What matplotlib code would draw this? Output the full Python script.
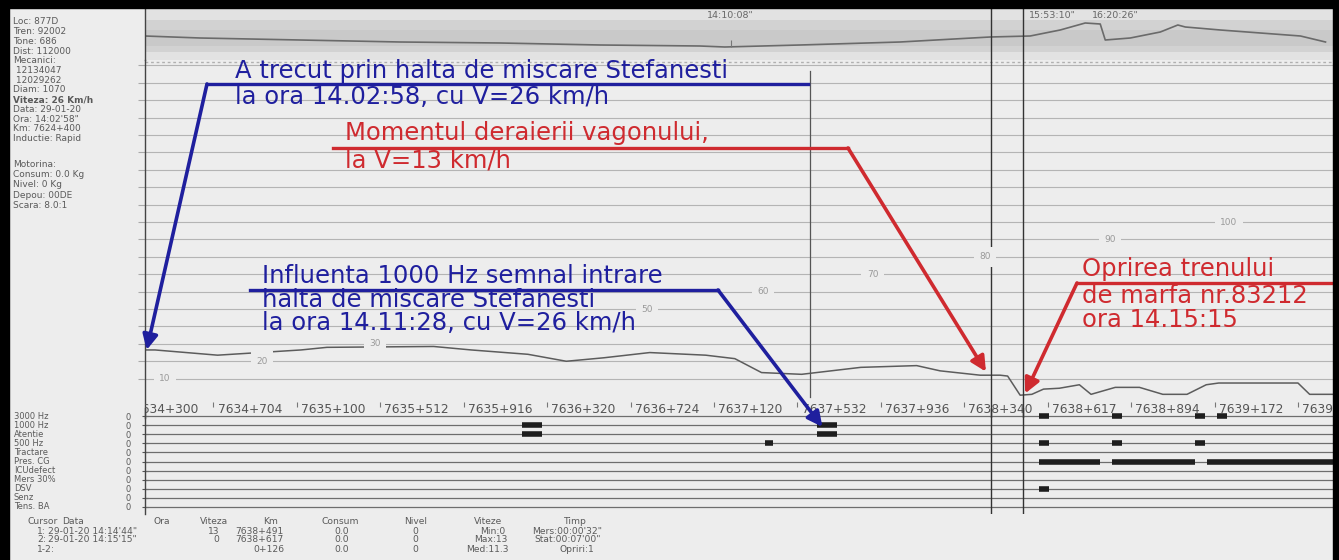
import matplotlib
matplotlib.use("Agg")
import matplotlib.pyplot as plt
from matplotlib.lines import Line2D
from matplotlib.patches import Rectangle
from matplotlib.transforms import blended_transform_factory

W, H = 1339, 560

# ---- data ----
# x axis = chart columns, one per km label
km_labels = ["7634+300", "7634+704", "7635+100", "7635+512", "7635+916",
             "7636+320", "7636+724", "7637+120", "7637+532", "7637+936",
             "7638+340", "7638+617", "7638+894", "7639+172", "7639+450"]

speed_pos = [0.18, 0.30, 1.05, 2.05, 2.36, 3.64, 4.09, 4.77, 5.23, 5.68,
             6.23, 6.90, 7.25, 7.57, 8.05, 8.76, 9.43, 9.71, 10.19, 10.43,
             10.52, 10.67, 10.81, 10.95, 11.14, 11.38, 11.52, 11.81, 12.10,
             12.38, 12.67, 12.90, 13.05, 14.00, 14.14, 14.45]
speed_kmh = [26.5, 26.5, 23.5, 26.5, 28, 28.5, 26.5, 24, 20, 22,
             25, 23.5, 21.5, 13.5, 12.5, 16.5, 17.5, 14.5, 12, 12,
             11.5, 0.5, 1, 4, 4.5, 6.5, 1, 5, 5,
             1, 1, 6.5, 7.5, 7.5, 1, 1]

scale_vals = [10, 20, 30, 50, 60, 70, 80, 90, 100]
scale_pos = [0.42, 1.58, 2.94, 6.20, 7.59, 8.90, 10.25, 11.75, 13.17]

profile_pos = [0.18, 0.84, 2.04, 3.24, 4.44, 5.64, 6.83, 7.13, 8.03, 9.23,
               10.31, 10.79, 11.15, 11.45, 11.63, 11.69, 11.99, 12.35, 12.56,
               12.65, 13.07, 13.55, 14.03, 14.33]
profile_val = [24, 22, 20, 18, 17, 15, 14, 13, 15, 18,
               23, 24, 30, 37, 36, 20, 22, 28, 35,
               33, 30, 27, 24, 18]
time_marks = ["14:10:08\"", "15:53:10\"", "16:20:26\""]
time_pos = [7.20, 11.06, 11.81]

cursor_pos = [10.32, 10.71]
marker_pos = 8.15

event_names = ["3000 Hz", "1000 Hz", "Atentie", "500 Hz", "Tractare", "Pres. CG",
               "ICUdefect", "Mers 30%", "DSV", "Senz", "Tens. BA"]
event_row = [1, 1, 2, 2, 3, 3, 3, 3, 0, 0, 0, 0, 5, 5, 5, 8]
event_start = [4.70, 8.24, 4.70, 8.24, 7.61, 10.89, 11.77, 12.77,
               10.89, 11.77, 12.77, 13.03, 10.89, 11.77, 12.91, 10.89]
event_end = [4.94, 8.48, 4.94, 8.48, 7.71, 11.01, 11.89, 12.89,
             11.01, 11.89, 12.89, 13.15, 11.63, 12.76, 14.50, 11.01]

info_lines = ["Loc: 877D", "Tren: 92002", "Tone: 686", "Dist: 112000", "Mecanici:",
              " 12134047", " 12029262", "Diam: 1070", "Viteza: 26 Km/h",
              "Data: 29-01-20", "Ora: 14:02'58\"", "Km: 7624+400", "Inductie: Rapid"]
fuel_lines = ["Motorina:", "Consum: 0.0 Kg", "Nivel: 0 Kg", "Depou: 00DE", "Scara: 8.0:1"]

BG = "#ededed"
BLUE = "#1f1f9e"
RED = "#cf2a2f"
GREY = "#5a5a5a"


def fx(px):
    return px / W


def fy(py):
    return 1 - py / H


fig = plt.figure(figsize=(W / 100, H / 100), dpi=100, facecolor=BG)

XL = (0.18, 14.42)
ax_top = fig.add_axes([fx(145), fy(60), (1333 - 145) / W, (60 - 9) / H])
ax_spd = fig.add_axes([fx(145), fy(418), (1333 - 145) / W, (418 - 60) / H])
ax_evt = fig.add_axes([fx(145), fy(514), (1333 - 145) / W, (514 - 408) / H])
for a in (ax_top, ax_spd, ax_evt):
    a.set_facecolor("none")
    a.set_xlim(*XL)
    for s in ("top", "right", "bottom"):
        a.spines[s].set_visible(False)
    a.spines["left"].set_color("#444444")
    a.spines["left"].set_linewidth(1.0)
    a.set_xticks([])

# ---- top strip (profile) ----
ax_top.set_ylim(0, 51)
ax_top.set_yticks([])
ax_top.axhspan(0, 51, color="#e2e2e2", lw=0)
ax_top.axhspan(8, 40, color="#d2d2d2", lw=0)
ax_top.axhspan(14, 30, color="#c9c9c9", lw=0)
ax_top.plot(profile_pos, profile_val, color="#6a6a6a", lw=1.2)
for t, p in zip(time_marks, time_pos):
    ax_top.text(p, 45, t, fontsize=6.8, color="#666666", ha="center", va="center")
ax_top.vlines(time_pos[0], 13, 20, color="#777777", lw=0.8)
for c in cursor_pos:
    ax_top.axvline(c, color="#333333", lw=1.0)

# ---- speed chart ----
ax_spd.set_ylim(-12.6, 193.1)
ax_spd.set_yticks(range(10, 200, 10))
ax_spd.set_yticklabels([])
ax_spd.tick_params(axis="y", length=5, direction="out", color="#aaaaaa")
ax_spd.grid(axis="y", color="#b4b4b4", lw=0.8)
ax_spd.axhline(192, color="#b0b0b0", lw=1.0, ls=(0, (2, 2)))
ax_spd.plot(speed_pos, speed_kmh, color="#5c5c5c", lw=1.1)
for v, p in zip(scale_vals, scale_pos):
    ax_spd.text(p, v, str(v), fontsize=6.5, color="#9a9a9a", ha="center", va="center",
                bbox=dict(boxstyle="square,pad=0.6", fc=BG, ec="none"))
for i, lab in enumerate(km_labels):
    ax_spd.vlines(i, -6, -3.5, color="#777777", lw=0.8)
    ax_spd.text(i + 0.05, -8, lab, fontsize=8.8, color="#555555",
                ha="left", va="center", clip_on=True)
ax_spd.axvline(marker_pos, ymin=0.06, ymax=0.97, color="#555555", lw=0.9)
for c in cursor_pos:
    ax_spd.axvline(c, color="#333333", lw=1.0)

# ---- event strip ----
ax_evt.set_ylim(10.77, -0.88)
ax_evt.set_yticks(range(len(event_names)))
ax_evt.set_yticklabels(["0"] * len(event_names), fontsize=6, color=GREY)
ax_evt.tick_params(axis="y", length=4, direction="inout", color="#555555", pad=8)
for r in range(len(event_names)):
    ax_evt.axhline(r, color="#6e6e6e", lw=0.9)
ax_evt.hlines(event_row, event_start, event_end, color="#1e1e1e", lw=4)
for c in cursor_pos:
    ax_evt.axvline(c, color="#333333", lw=1.0)
tr = blended_transform_factory(fig.transFigure, ax_evt.transData)
for r, name in enumerate(event_names):
    ax_evt.text(fx(14), r, name, transform=tr, fontsize=6, color=GREY, va="center")

# ---- left info panel ----
for i, s in enumerate(info_lines):
    fig.text(fx(13), fy(22 + 9.7 * i), s, fontsize=6.5, color=GREY, va="center",
             fontweight="bold" if s.startswith("Viteza") else "normal")
for i, s in enumerate(fuel_lines):
    fig.text(fx(13), fy(164 + 10.5 * i), s, fontsize=6.5, color=GREY, va="center")

# ---- cursor table ----
table = [
    (522, [("Cursor", 28), ("Data", 62), ("Ora", 153), ("Viteza", 200), ("Km", 263),
           ("Consum", 322), ("Nivel", 404), ("Viteze", 474), ("Timp", 564)]),
    (531, [("1:", 37), ("29-01-20 14:14'44\"", 48), ("13", 208), ("7638+491", 235),
           ("0.0", 334), ("0", 412), ("Min:0", 480), ("Mers:00:00'32\"", 532)]),
    (540, [("2:", 37), ("29-01-20 14:15'15\"", 48), ("0", 213), ("7638+617", 235),
           ("0.0", 334), ("0", 412), ("Max:13", 474), ("Stat:00:07'00\"", 534)]),
    (549, [("1-2:", 37), ("0+126", 253), ("0.0", 334), ("0", 412),
           ("Med:11.3", 466), ("Opriri:1", 560)]),
]
for y, cells in table:
    for s, x in cells:
        fig.text(fx(x), fy(y), s, fontsize=6.6, color=GREY, va="center")

# ---- annotations ----
notes = [
    (BLUE, 235, [(71, "A trecut prin halta de miscare Stefanesti"),
                 (97, "la ora 14.02:58, cu V=26 km/h")], (207, 808, 84)),
    (RED, 345, [(133, "Momentul deraierii vagonului,"),
                (161, "la V=13 km/h")], (333, 848, 148)),
    (BLUE, 262, [(276, "Influenta 1000 Hz semnal intrare"),
                 (300, "halta de miscare Stefanesti"),
                 (323, "la ora 14.11:28, cu V=26 km/h")], (250, 718, 290)),
    (RED, 1082, [(269, "Oprirea trenului"),
                 (296, "de marfa nr.83212"),
                 (320, "ora 14.15:15")], (1077, 1333, 283)),
]
for color, x, lines, (x0, x1, yu) in notes:
    for y, s in lines:
        fig.text(fx(x), fy(y), s, fontsize=17.5, color=color, va="center")
    fig.add_artist(Line2D([fx(x0), fx(x1)], [fy(yu), fy(yu)], transform=fig.transFigure,
                          color=color, lw=2.4))

arrow = dict(arrowstyle="-|>,head_length=0.9,head_width=0.45", lw=2.6,
             shrinkA=0, shrinkB=0)
ax_spd.annotate("", xy=(speed_pos[0] + 0.02, speed_kmh[0]), xytext=(fx(207), fy(84)),
                textcoords="figure fraction", annotation_clip=False,
                arrowprops=dict(arrow, color=BLUE))
ax_spd.annotate("", xy=(10.26, 14), xytext=(fx(848), fy(148)),
                textcoords="figure fraction", annotation_clip=False,
                arrowprops=dict(arrow, color=RED))
ax_evt.annotate("", xy=(8.30, 1.2), xytext=(fx(718), fy(290)),
                textcoords="figure fraction", annotation_clip=False,
                arrowprops=dict(arrow, color=BLUE))
ax_spd.annotate("", xy=(10.73, 1.5), xytext=(fx(1077), fy(283)),
                textcoords="figure fraction", annotation_clip=False,
                arrowprops=dict(arrow, color=RED))

# black scan border
for x0, y0, w, h in [(0, 0, W, 8), (0, 0, 9, H), (W - 6, 0, 6, H)]:
    fig.add_artist(Rectangle((fx(x0), fy(y0 + h)), w / W, h / H,
                             transform=fig.transFigure, color="black", zorder=10))

fig.savefig("out.png", dpi=100, facecolor=BG)
